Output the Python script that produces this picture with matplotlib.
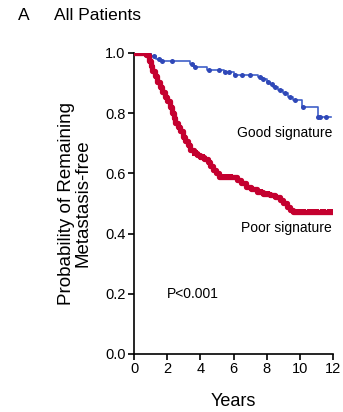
import numpy as np
import matplotlib
matplotlib.use("Agg")
import matplotlib.pyplot as plt

plt.rcParams['font.family'] = ['Liberation Sans', 'DejaVu Sans']

# Kaplan-Meier steps (years, survival) for each signature group
good_t = [0, 0.8, 1.0, 1.3, 1.6, 3.4, 3.6, 4.4, 5.0, 5.4, 6.0, 7.5, 7.7, 8.0, 8.2,
          8.4, 8.7, 9.0, 9.3, 9.6, 10.1, 11.1, 11.9]
good_s = [1.0, 0.995, 0.99, 0.98, 0.972, 0.962, 0.953, 0.945, 0.942, 0.937, 0.927,
          0.92, 0.913, 0.905, 0.897, 0.888, 0.878, 0.868, 0.855, 0.844, 0.822, 0.788, 0.788]
good_cens = [0.9, 1.2, 1.5, 1.7, 2.3, 3.5, 3.7, 4.5, 5.1, 5.5, 5.7, 6.1, 6.5, 7.0,
             7.6, 7.8, 8.1, 8.3, 8.5, 8.8, 9.1, 9.4, 9.7, 10.2, 11.1, 11.2, 11.6]

poor_t = [0, 0.7, 0.9, 1.0, 1.1, 1.25, 1.4, 1.55, 1.7, 1.85, 2.0, 2.15, 2.3, 2.4,
          2.5, 2.65, 2.8, 2.95, 3.1, 3.25, 3.4, 3.6, 3.8, 4.0, 4.25, 4.45, 4.6,
          4.75, 4.95, 5.15, 6.2, 6.45, 6.75, 7.05, 7.4, 7.8, 8.2, 8.5, 8.8, 9.0,
          9.2, 9.4, 9.6, 11.9]
poor_s = [1.0, 0.993, 0.975, 0.958, 0.94, 0.922, 0.905, 0.888, 0.87, 0.855, 0.84,
          0.822, 0.80, 0.785, 0.767, 0.755, 0.74, 0.722, 0.708, 0.693, 0.678, 0.668,
          0.66, 0.655, 0.647, 0.639, 0.625, 0.611, 0.60, 0.589, 0.578, 0.567, 0.556,
          0.548, 0.539, 0.533, 0.528, 0.52, 0.512, 0.50, 0.489, 0.48, 0.473, 0.473]
poor_cens = [0.3, 3.7, 4.1, 5.4, 5.8, 7.6, 8.0, 9.8, 10.2, 10.6, 11.0, 11.4, 11.8]

x_ticks = [0, 2, 4, 6, 8, 10, 12]
y_ticks = [0.0, 0.2, 0.4, 0.6, 0.8, 1.0]

blue = "#4060c8"
blue_dark = "#2f48b8"
red = "#c4002f"


def surv_at(t, times, surv):
    idx = np.searchsorted(times, t, side="right") - 1
    return np.asarray(surv)[idx]


fig = plt.figure(figsize=(3.43, 4.12), dpi=100)
ax = fig.add_axes([0.3907, 0.1408, 0.5802, 0.7306])

ax.plot(good_t, good_s, drawstyle="steps-post", color=blue, lw=1.2, zorder=3)
ax.plot(good_cens, surv_at(good_cens, good_t, good_s), "o", color=blue_dark,
        ms=3.6, mew=0, zorder=4)

ax.plot(poor_t, poor_s, drawstyle="steps-post", color=red, lw=3.8,
        solid_joinstyle="round", zorder=5)
ax.plot(poor_cens, surv_at(poor_cens, poor_t, poor_s), "s", color=red,
        ms=3.8, mew=0, zorder=6)

ax.set_xlim(0, 12)
ax.set_ylim(0, 1.0)
ax.set_xticks(x_ticks)
ax.set_yticks(y_ticks)
ax.set_xticklabels([str(v) for v in x_ticks])
ax.set_yticklabels([f"{v:.1f}" for v in y_ticks])
ax.tick_params(direction="out", length=4, width=1.2, labelsize=10.5, pad=2)
ax.spines["top"].set_visible(False)
ax.spines["right"].set_visible(False)
for s in ("left", "bottom"):
    ax.spines[s].set_linewidth(1.2)
ax.patch.set_alpha(0)

ax.set_xlabel("Years", fontsize=13, labelpad=12)
ax.set_ylabel("Probability of Remaining\nMetastasis-free", fontsize=13.5,
              labelpad=10, linespacing=0.95)

ax.text(11.95, 0.735, "Good signature", ha="right", va="center", fontsize=10)
ax.text(11.95, 0.42, "Poor signature", ha="right", va="center", fontsize=10)
ax.text(2.0, 0.2, "P<0.001", ha="left", va="center", fontsize=10)

fig.text(18 / 343, 1 - 16 / 412, "A", ha="left", va="center", fontsize=12.5)
fig.text(54 / 343, 1 - 16 / 412, "All Patients", ha="left", va="center", fontsize=12.5)

fig.savefig("out.png", dpi=100)
